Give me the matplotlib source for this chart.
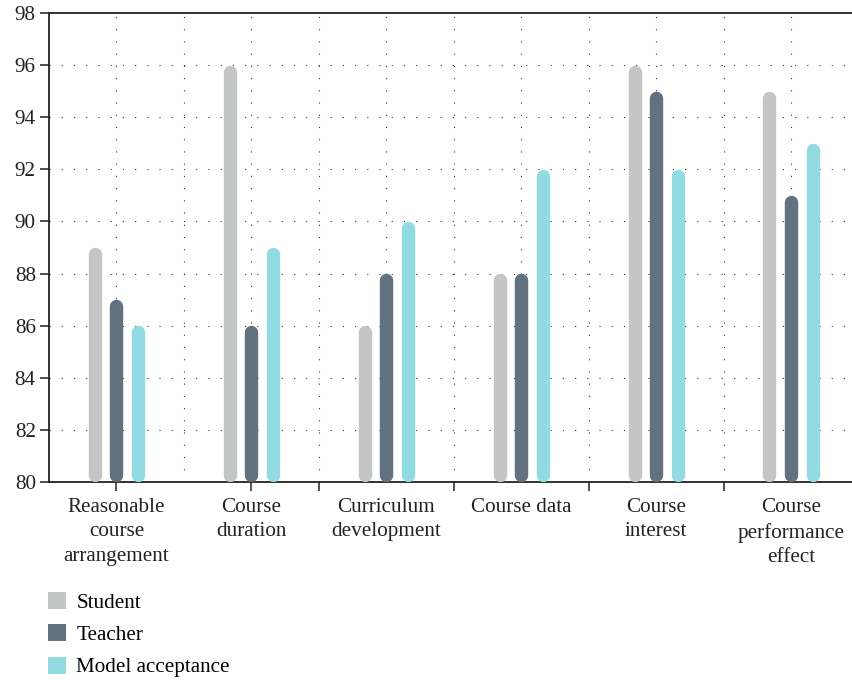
import numpy as np
import matplotlib.pyplot as plt
from matplotlib.patches import Patch

plt.rcParams["font.family"] = ["Liberation Serif", "DejaVu Serif"]

categories = [
    "Reasonable\ncourse\narrangement",
    "Course\nduration",
    "Curriculum\ndevelopment",
    "Course data",
    "Course\ninterest",
    "Course\nperformance\neffect",
]
student = [89, 96, 86, 88, 96, 95]
teacher = [87, 86, 88, 88, 95, 91]
model_acceptance = [86, 89, 90, 92, 92, 93]

series = [
    ("Student", student, "#c4c6c5"),
    ("Teacher", teacher, "#627180"),
    ("Model acceptance", model_acceptance, "#93dbe2"),
]

FS = 15.2

fig = plt.figure(figsize=(8.53, 6.8), dpi=100)
ax = fig.add_axes([49 / 853, 1 - 482 / 680, 809.5 / 853, 469 / 680])

ymin, ymax = 80, 98
ax.set_xlim(-0.5, 5.5)
ax.set_ylim(ymin, ymax)

# rounded bars drawn as thick lines with round caps
bar_px = 13.4
lw_pt = bar_px * 72 / 100
px_per_unit = 469 / (ymax - ymin)
cap = (bar_px / 2) / px_per_unit
offsets = [-0.16, 0.0, 0.16]

x = np.arange(len(categories))
for (name, vals, color), off in zip(series, offsets):
    for xi, v in zip(x, vals):
        ax.plot([xi + off, xi + off], [ymin + cap, v - cap], color=color,
                lw=lw_pt, solid_capstyle="round", zorder=3)

# grid every half category, ticks at first two centres then boundaries
ax.set_xticks([0, 1, 1.5, 2.5, 3.5, 4.5])
ax.set_xticklabels([])
ax.set_yticks(np.arange(80, 99, 2))
dot = (0, (1, 10))
for gx in np.arange(0, 5.6, 0.5):
    ax.axvline(gx, color="#333333", lw=0.8, ls=dot, zorder=1)
for gy in np.arange(82, 98, 2):
    ax.axhline(gy, color="#333333", lw=0.8, ls=dot, zorder=1)

# category labels below the axis
for xi, label in zip(x, categories):
    ax.text(xi, ymin - 0.62, label, ha="center", va="top",
            fontsize=FS, color="#222222", linespacing=1.38)

ax.tick_params(axis="both", which="major", direction="out", length=6.5,
               width=1.1, labelsize=FS, colors="#222222", pad=3)
for s in ["left", "bottom", "top"]:
    ax.spines[s].set_linewidth(1.3)
    ax.spines[s].set_color("#222222")
ax.spines["right"].set_visible(False)

handles = [Patch(facecolor=c, edgecolor="none", label=n) for n, _, c in series]
fig.legend(handles=handles, loc="upper left",
           bbox_to_anchor=(48 / 853, 1 - 592 / 680), frameon=False,
           fontsize=FS, handlelength=0.85, handleheight=0.85,
           handletextpad=0.5, labelspacing=0.55, borderpad=0,
           borderaxespad=0)

fig.savefig("out.png", dpi=100)
